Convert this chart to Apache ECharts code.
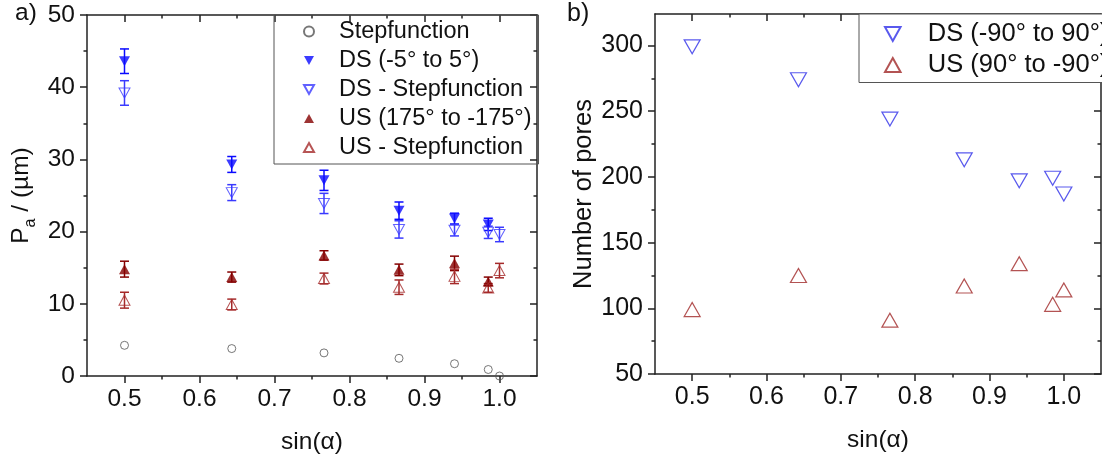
<!DOCTYPE html>
<html>
<head>
<meta charset="utf-8">
<script src="https://cdn.jsdelivr.net/npm/echarts@6/dist/echarts.min.js"></script>
<style>html,body{margin:0;padding:0;background:#fff}#c{width:1102px;height:462px}</style>
</head>
<body>
<div id="c"></div>
<script>
// ---------- data ----------
const sinAlpha = [0.5, 0.643, 0.766, 0.866, 0.940, 0.985, 1.0];
const xTicks = [0.5, 0.6, 0.7, 0.8, 0.9, 1.0];
const xMinorTicks = [0.55, 0.65, 0.75, 0.85, 0.95];
const yTicksLeft = [0, 10, 20, 30, 40, 50];
const yMinorLeft = [5, 15, 25, 35, 45];
const yTicksRight = [50, 100, 150, 200, 250, 300];
const yMinorRight = [75, 125, 175, 225, 275];

// panel a) Pa / (µm)
const stepfunction = [4.25, 3.8, 3.2, 2.45, 1.7, 0.9, 0.0];
const dsMean = [43.6, 29.3, 27.1, 22.9, 21.8, 21.0];
const dsErr = [1.7, 1.1, 1.4, 1.2, 0.75, 0.85];
const dsStep = [39.2, 25.4, 23.9, 20.3, 20.2, 19.9, 19.6];
const dsStepErr = [1.7, 1.1, 1.4, 1.2, 0.8, 0.85, 1.0];
const usMean = [14.8, 13.7, 16.7, 14.7, 15.6, 13.1];
const usErr = [1.1, 0.7, 0.65, 0.8, 1.0, 0.6];
const usStep = [10.5, 9.9, 13.5, 12.3, 13.8, 12.2, 14.6];
const usStepErr = [1.1, 0.75, 0.75, 1.0, 1.0, 0.6, 1.0];

// panel b) number of pores
const poresDS = [299, 274, 244, 213, 197, 199, 187];
const poresUS = [99, 125, 91, 117, 134, 103, 114];

// ---------- helpers ----------
const FONT = 'Liberation Sans, Arial, sans-serif';
const AX = '#222';
const TRI_DOWN = 'path://M0,0L20,0L10,18Z';
const TRI_UP = 'path://M10,0L20,18L0,18Z';
const pts = (xs, ys) => ys.map((y, i) => [xs[i], y]);
const errData = (xs, m, e) => m.map((v, i) => [xs[i], v - e[i], v + e[i]]);

function errSeries(data, color) {
  return {
    type: 'custom', xAxisIndex: 0, yAxisIndex: 0, z: 2, silent: true,
    encode: { x: 0, y: [1, 2] }, data: data,
    renderItem: function (params, api) {
      const x = api.value(0);
      const lo = api.coord([x, api.value(1)]);
      const hi = api.coord([x, api.value(2)]);
      const hw = 4.5;
      const st = { stroke: color, lineWidth: 1.5 };
      return { type: 'group', children: [
        { type: 'line', shape: { x1: lo[0], y1: lo[1], x2: hi[0], y2: hi[1] }, style: st },
        { type: 'line', shape: { x1: lo[0] - hw, y1: lo[1], x2: lo[0] + hw, y2: lo[1] }, style: st },
        { type: 'line', shape: { x1: hi[0] - hw, y1: hi[1], x2: hi[0] + hw, y2: hi[1] }, style: st }
      ]};
    }
  };
}

function xAxes(grid, nameOn, fs) {
  const base = { type: 'value', gridIndex: grid, min: 0.45, max: 1.05, splitLine: { show: false } };
  return [
    Object.assign({}, base, {
      position: 'bottom',
      name: nameOn, nameLocation: 'middle', nameGap: 54,
      nameTextStyle: { fontFamily: FONT, fontSize: 24.5, color: '#111' },
      axisLine: { onZero: false, lineStyle: { color: AX, width: 1.5 } },
      axisTick: { customValues: xTicks, length: 7, lineStyle: { color: AX, width: 1.5 } },
      axisLabel: { customValues: xTicks, margin: 11, fontFamily: FONT, fontSize: fs, color: '#111',
                   formatter: v => v.toFixed(1) }
    }),
    Object.assign({}, base, {
      position: 'bottom',
      axisLine: { show: false, onZero: false },
      axisTick: { customValues: xMinorTicks, length: 3.5, lineStyle: { color: AX, width: 1.5 } },
      axisLabel: { show: false }
    }),
    Object.assign({}, base, {
      position: 'top',
      axisLine: { onZero: false, lineStyle: { color: AX, width: 1.5 } },
      axisTick: { customValues: xTicks, inside: true, length: 7, lineStyle: { color: AX, width: 1.5 } },
      axisLabel: { show: false }
    }),
    Object.assign({}, base, {
      position: 'top',
      axisLine: { show: false, onZero: false },
      axisTick: { customValues: xMinorTicks, inside: true, length: 3.5, lineStyle: { color: AX, width: 1.5 } },
      axisLabel: { show: false }
    })
  ];
}

function yAxes(grid, min, max, ticks, minor, name, nameGap, fs, nfs) {
  const base = { type: 'value', gridIndex: grid, min: min, max: max, splitLine: { show: false } };
  return [
    Object.assign({}, base, {
      position: 'left',
      name: name, nameLocation: 'middle', nameGap: nameGap,
      nameTextStyle: { fontFamily: FONT, fontSize: nfs, color: '#111',
        rich: {
          b: { fontFamily: FONT, fontSize: nfs, color: '#111', lineHeight: 30, verticalAlign: 'top' },
          s: { fontFamily: FONT, fontSize: 16, color: '#111', lineHeight: 16, verticalAlign: 'bottom' }
        } },
      axisLine: { onZero: false, lineStyle: { color: AX, width: 1.5 } },
      axisTick: { customValues: ticks, length: 7, lineStyle: { color: AX, width: 1.5 } },
      axisLabel: { customValues: ticks, margin: 12, fontFamily: FONT, fontSize: fs, color: '#111' }
    }),
    Object.assign({}, base, {
      position: 'left',
      axisLine: { show: false, onZero: false },
      axisTick: { customValues: minor, length: 3.5, lineStyle: { color: AX, width: 1.5 } },
      axisLabel: { show: false }
    }),
    Object.assign({}, base, {
      position: 'right',
      axisLine: { onZero: false, lineStyle: { color: AX, width: 1.5 } },
      axisTick: { customValues: ticks, inside: true, length: 7, lineStyle: { color: AX, width: 1.5 } },
      axisLabel: { show: false }
    }),
    Object.assign({}, base, {
      position: 'right',
      axisLine: { show: false, onZero: false },
      axisTick: { customValues: minor, inside: true, length: 3.5, lineStyle: { color: AX, width: 1.5 } },
      axisLabel: { show: false }
    })
  ];
}

const C_DS = '#0a0aff', C_DSS = '#3a3aff', C_US = '#850000', C_USS = '#a52a2a', C_SF = '#555555';
const C_DS2 = '#3030e8', C_US2 = '#a02828';

const option = {
  animation: false,
  backgroundColor: '#fff',
  textStyle: { fontFamily: FONT },
  grid: [
    { left: 87, top: 15, width: 450, height: 361 },
    { left: 655, top: 14, width: 446, height: 360 }
  ],
  xAxis: xAxes(0, 'sin(\u03b1)', 24.5).concat(xAxes(1, 'sin(\u03b1)', 25)),
  yAxis: yAxes(0, 0, 50, yTicksLeft, yMinorLeft, '{b|P}{s|a}{b| / (\u00b5m)}', 48, 24.5, 24.5)
          .concat(yAxes(1, 50, 324, yTicksRight, yMinorRight, 'Number of pores', 57, 25, 25.5)),
  legend: [
    {
      left: 274, top: 15, orient: 'vertical', itemGap: 5, itemWidth: 10, itemHeight: 10,
      padding: [4.5, 7, 4.5, 29], borderColor: '#555', borderWidth: 1, backgroundColor: 'transparent',
      formatter: n => '{g|}' + n,
      textStyle: { fontFamily: FONT, fontSize: 23.5, lineHeight: 24, color: '#111',
                   rich: { g: { width: 20 } } },
      data: [
        { name: 'Stepfunction', icon: 'circle' },
        { name: 'DS (-5\u00b0 to 5\u00b0)', icon: TRI_DOWN },
        { name: 'DS - Stepfunction', icon: TRI_DOWN },
        { name: 'US (175\u00b0 to -175\u00b0)', icon: TRI_UP },
        { name: 'US - Stepfunction', icon: TRI_UP }
      ]
    },
    {
      left: 859, top: 14, orient: 'vertical', itemGap: 5, itemWidth: 16, itemHeight: 14,
      padding: [7, 30, 4.5, 25], borderColor: '#555', borderWidth: 1, backgroundColor: '#fff',
      formatter: n => '{g|}' + n,
      textStyle: { fontFamily: FONT, fontSize: 25.5, lineHeight: 25, color: '#111',
                   rich: { g: { width: 22 } } },
      data: [
        { name: 'DS (-90\u00b0 to 90\u00b0)', icon: TRI_DOWN },
        { name: 'US (90\u00b0 to -90\u00b0)', icon: TRI_UP }
      ]
    }
  ],
  graphic: [
    { type: 'text', left: 15, top: 1, style: { text: 'a)', font: '24.5px ' + FONT, fill: '#111' } },
    { type: 'text', left: 567, top: 2, style: { text: 'b)', font: '25px ' + FONT, fill: '#111' } }
  ],
  series: [
    errSeries(errData(sinAlpha, dsMean, dsErr), C_DS),
    errSeries(errData(sinAlpha, dsStep, dsStepErr), C_DSS),
    errSeries(errData(sinAlpha, usMean, usErr), C_US),
    errSeries(errData(sinAlpha, usStep, usStepErr), C_USS),
    { name: 'Stepfunction', type: 'scatter', xAxisIndex: 0, yAxisIndex: 0, z: 3,
      symbol: 'circle', symbolSize: 8,
      itemStyle: { color: 'transparent', borderColor: C_SF, borderWidth: 1 },
      data: pts(sinAlpha, stepfunction) },
    { name: 'DS (-5\u00b0 to 5\u00b0)', type: 'scatter', xAxisIndex: 0, yAxisIndex: 0, z: 3,
      symbol: TRI_DOWN, symbolSize: [11, 10],
      itemStyle: { color: C_DS }, data: pts(sinAlpha, dsMean) },
    { name: 'DS - Stepfunction', type: 'scatter', xAxisIndex: 0, yAxisIndex: 0, z: 3,
      symbol: TRI_DOWN, symbolSize: [11, 10],
      itemStyle: { color: 'transparent', borderColor: C_DSS, borderWidth: 1 }, data: pts(sinAlpha, dsStep) },
    { name: 'US (175\u00b0 to -175\u00b0)', type: 'scatter', xAxisIndex: 0, yAxisIndex: 0, z: 3,
      symbol: TRI_UP, symbolSize: [11, 10],
      itemStyle: { color: C_US }, data: pts(sinAlpha, usMean) },
    { name: 'US - Stepfunction', type: 'scatter', xAxisIndex: 0, yAxisIndex: 0, z: 3,
      symbol: TRI_UP, symbolSize: [11, 10],
      itemStyle: { color: 'transparent', borderColor: C_USS, borderWidth: 1 }, data: pts(sinAlpha, usStep) },
    { name: 'DS (-90\u00b0 to 90\u00b0)', type: 'scatter', xAxisIndex: 4, yAxisIndex: 4, z: 3,
      symbol: TRI_DOWN, symbolSize: [16, 14],
      itemStyle: { color: 'transparent', borderColor: C_DS2, borderWidth: 1.2 }, data: pts(sinAlpha, poresDS) },
    { name: 'US (90\u00b0 to -90\u00b0)', type: 'scatter', xAxisIndex: 4, yAxisIndex: 4, z: 3,
      symbol: TRI_UP, symbolSize: [16, 14],
      itemStyle: { color: 'transparent', borderColor: C_US2, borderWidth: 1.2 }, data: pts(sinAlpha, poresUS) }
  ]
};

const chart = echarts.init(document.getElementById('c'), null, { renderer: 'canvas' });
chart.setOption(option);
</script>
</body>
</html>
